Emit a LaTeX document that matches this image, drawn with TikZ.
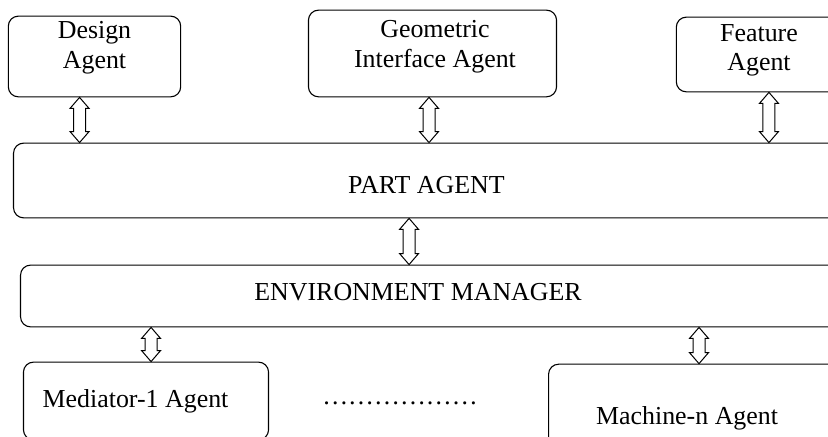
\documentclass[tikz,border=0pt]{standalone}
\usepackage{fontspec}
\setmainfont{Liberation Serif}
\usetikzlibrary{calc}

\newcommand{\biarrow}[2]{%
  \draw[line width=1bp, fill=white, line join=miter] (#1) -- ++(9.5,-11) -- ++(-3.5,0)
    -- ($(#2)+(6,11)$) -- ++(3.5,0) -- (#2) -- ++(-9.5,11) -- ++(3.5,0)
    -- ($(#1)+(-6,-11)$) -- ++(-3.5,0) -- cycle;}

\begin{document}
\begin{tikzpicture}[x=1bp,y=1bp,
    agent/.style={draw, rounded corners=10bp, line width=1.1bp, inner sep=0pt},
    lbl/.style={font=\fontsize{26}{29.5}\selectfont, align=center}]
    \useasboundingbox (0,0) rectangle (828,437);
    \clip (0,0) rectangle (828,437);
    \node at (94.5,380.5)[agent, minimum width=173, minimum height=81,
      label={[lbl, yshift=8.9]center:Design\\Agent}] (des){};
    \node at (432.5,383.5)[agent, minimum width=249, minimum height=87,
      label={[lbl, xshift=2.5, yshift=6.9]center:Geometric\\Interface Agent}] (geo){};
    \node at (759,382.5)[agent, minimum width=166, minimum height=75,
      label={[lbl, yshift=4.4]center:Feature\\Agent}] (fea){};
    \node at (426.5,256.5)[agent, minimum width=829, minimum height=75,
      label={[lbl, yshift=-5]center:PART AGENT}] (part){};
    \node at (434,141)[agent, minimum width=830, minimum height=62,
      label={[lbl, xshift=-16, yshift=4]center:ENVIRONMENT MANAGER}] (env){};
    \node at (146,36)[agent, minimum width=246, minimum height=78,
      label={[lbl, xshift=-10.5]center:Mediator-1 Agent}] (med){};
    \node at (704,19)[agent, minimum width=312, minimum height=108,
      label={[lbl, xshift=-17]center:Machine-n Agent}] (mac){};
    \node at (400,32)[lbl, anchor=base, inner sep=0pt] (dots){………………};
    % links
    \coordinate (t1) at ([xshift=-15]des.south);
    \coordinate (t2) at ([xshift=-3.5]geo.south);
    \coordinate (t3) at ([xshift=10]fea.south);
    \coordinate (t4) at ([xshift=-17.5]part.south);
    \coordinate (t5) at ([xshift=-284]env.south);
    \coordinate (t6) at ([xshift=266]env.south);
    \biarrow{t1}{t1 |- part.north}
    \biarrow{t2}{t2 |- part.north}
    \biarrow{t3}{t3 |- part.north}
    \biarrow{t4}{t4 |- env.north}
    \biarrow{t5}{t5 |- med.north}
    \biarrow{t6}{t6 |- mac.north}
  \end{tikzpicture}
\end{document}
